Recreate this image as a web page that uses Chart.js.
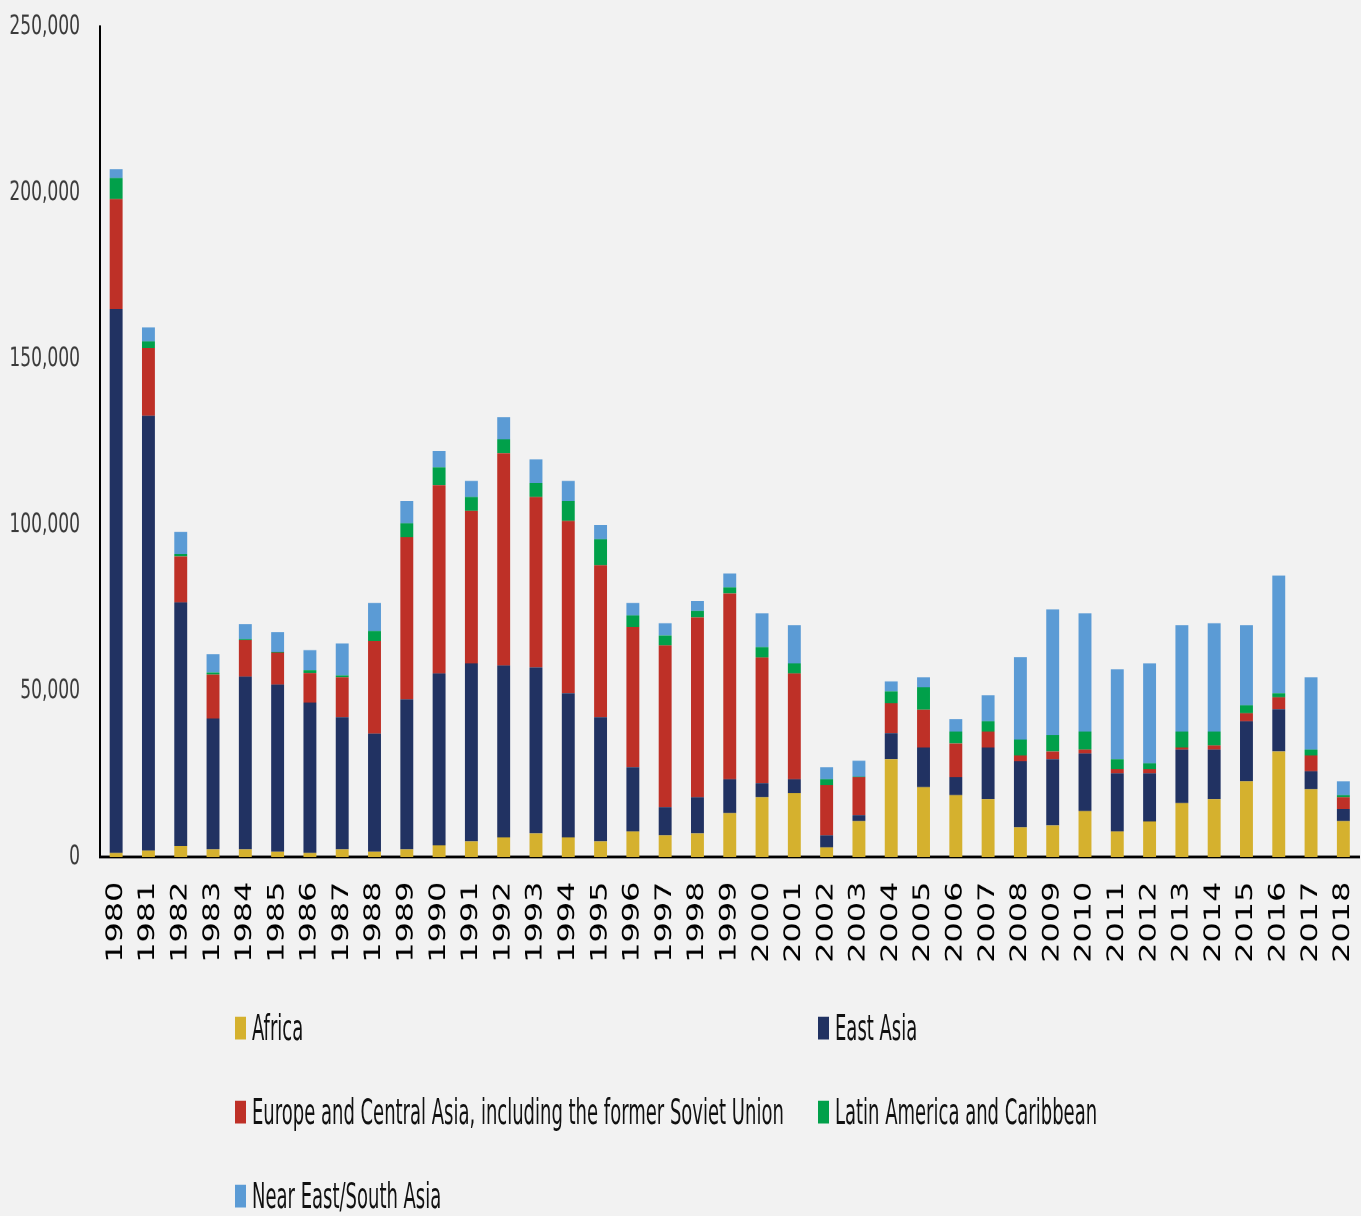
<!DOCTYPE html>
<html>
<head>
<meta charset="utf-8">
<script src="https://cdn.jsdelivr.net/npm/chart.js@4.4.1/dist/chart.umd.min.js"></script>
<style>
  html, body { margin: 0; padding: 0; background: #f2f2f2; }
  body { width: 1361px; height: 1216px; overflow: hidden; position: relative; }
  /* the source picture is stretched vertically, so draw flat and stretch */
  #stretch { position: absolute; left: 0; top: 0; width: 1361px; height: 676px;
             transform: scaleY(1.45); transform-origin: 0 0; }
  #box { position: absolute; left: 0; top: 0; width: 1361px; height: 676px; }
  #legend { position: absolute; left: 0; top: 0; width: 1361px; height: 695px;
            transform: scaleY(1.75); transform-origin: 0 0;
            font-family: "Liberation Sans Narrow", "DejaVu Sans Condensed", sans-serif;
            font-size: 20px; color: #111; }
  .item { position: absolute; display: flex; align-items: center; white-space: nowrap; height: 24px; }
  .swatch { width: 11px; height: 13.7px; margin-right: 6px; }
</style>
</head>
<body>
<div id="stretch">
  <div id="box"><canvas id="c"></canvas></div>
</div>
<div id="legend"></div>
<script>
  "use strict";

  const YEARS = ["1980","1981","1982","1983","1984","1985","1986","1987","1988","1989",
    "1990","1991","1992","1993","1994","1995","1996","1997","1998","1999",
    "2000","2001","2002","2003","2004","2005","2006","2007","2008","2009",
    "2010","2011","2012","2013","2014","2015","2016","2017","2018"];

  const AFRICA = [1200, 1900, 3300, 2300, 2300, 1600, 1200, 2300, 1600, 2300,
    3500, 4700, 5900, 7100, 5900, 4700, 7700, 6500, 7100, 13200,
    18000, 19200, 2900, 10800, 29400, 21000, 18600, 17400, 8900, 9500,
    13800, 7700, 10700, 16200, 17400, 22800, 31800, 20400, 10800];

  const EAST_ASIA = [163900, 131000, 73400, 39400, 52000, 50300, 45300, 39800, 35600, 45200,
    51800, 53600, 51800, 50000, 43400, 37400, 19300, 8500, 10900, 10200,
    4200, 4200, 3600, 1800, 7900, 12000, 5400, 15600, 19900, 19900,
    17400, 17500, 14500, 16200, 15000, 18100, 12700, 5400, 3600];

  const EUROPE = [33100, 20400, 13800, 13200, 11000, 9700, 8900, 12000, 27900, 48800,
    56700, 45900, 63900, 51300, 51900, 45800, 42200, 48700, 54200, 56000,
    37900, 31900, 15100, 11400, 9000, 11400, 10200, 4800, 1800, 2400,
    1200, 1200, 1200, 600, 1200, 2400, 3600, 4800, 3600];

  const LATIN_AMERICA = [6300, 2000, 800, 700, 300, 200, 900, 600, 3000, 4200,
    5400, 4200, 4200, 4300, 6000, 7800, 3600, 3000, 1900, 1800,
    3100, 3000, 1800, 200, 3600, 6700, 3600, 3100, 4800, 4900,
    5400, 3000, 1800, 4800, 4200, 2400, 1200, 1800, 600];

  const NEAR_EAST = [2700, 4200, 6600, 5500, 4500, 5900, 6000, 9600, 8400, 6700,
    4900, 4900, 6700, 7100, 6100, 4300, 3700, 3700, 3000, 4200,
    10200, 11500, 3600, 4800, 3000, 3000, 3700, 7800, 24800, 37900,
    35600, 27100, 30100, 32000, 32600, 24100, 35500, 21700, 4200];

  const SERIES_NAMES = ["Africa", "East Asia",
    "Europe and Central Asia, including the former Soviet Union",
    "Latin America and Caribbean", "Near East/South Asia"];
  const SERIES_VALUES = [AFRICA, EAST_ASIA, EUROPE, LATIN_AMERICA, NEAR_EAST];
  const SERIES_COLORS = ["#D5B12E", "#213262", "#BE3027", "#01A04A", "#5B9BD5"];

  const Y_MIN = 0;
  const Y_MAX = 250000;
  const Y_STEP = 50000;

  const NARROW = '"Liberation Sans Narrow", "DejaVu Sans Condensed", sans-serif';

  const datasets = SERIES_NAMES.map(function (name, i) {
    return {
      label: name,
      data: SERIES_VALUES[i],
      backgroundColor: SERIES_COLORS[i],
      borderWidth: 0,
    };
  });

  const chart = new Chart(document.getElementById("c"), {
    type: "bar",
    data: { labels: YEARS, datasets: datasets },
    options: {
      responsive: true,
      maintainAspectRatio: false,
      animation: false,
      devicePixelRatio: 2,
      layout: { padding: { top: 18.6, right: 1.5, left: 0, bottom: 0 } },
      datasets: { bar: { barPercentage: 0.4, categoryPercentage: 1 } },
      plugins: { legend: { display: false }, tooltip: { enabled: false } },
      scales: {
        x: {
          stacked: true,
          grid: { display: false, drawTicks: false },
          border: { display: true, color: "#000", width: 2 },
          ticks: {
            minRotation: 90, maxRotation: 90, autoSkip: false, padding: 17,
            color: "#000", font: { family: "DejaVu Sans", size: 22 },
          },
          afterFit: function (s) {
            s.height = 85;
            s.paddingLeft = 0;
            s.paddingRight = 0;
          },
        },
        y: {
          stacked: true,
          min: Y_MIN,
          max: Y_MAX,
          grid: { display: false, drawTicks: false },
          border: { display: true, color: "#000", width: 2 },
          ticks: {
            stepSize: Y_STEP, padding: 20, color: "#3a3a3a",
            font: { family: NARROW, size: 19 },
            callback: function (v) { return v.toLocaleString("en-US"); },
          },
          afterFit: function (s) {
            s.width = 100;
            s.paddingTop = 0;
            s.paddingBottom = 0;
          },
        },
      },
    },
  });

  // legend in two columns, built from the chart's datasets
  const LEGEND_STRETCH = 1.75;
  const LEGEND_COLS = [235, 818];
  const LEGEND_ROWS = [1028, 1112, 1196];
  const legend = document.getElementById("legend");
  chart.data.datasets.forEach(function (ds, i) {
    const item = document.createElement("div");
    item.className = "item";
    item.style.left = LEGEND_COLS[i % 2] + "px";
    item.style.top = (LEGEND_ROWS[Math.floor(i / 2)] / LEGEND_STRETCH - 12) + "px";
    const sw = document.createElement("span");
    sw.className = "swatch";
    sw.style.background = ds.backgroundColor;
    const tx = document.createElement("span");
    tx.textContent = ds.label;
    item.appendChild(sw);
    item.appendChild(tx);
    legend.appendChild(item);
  });
</script>
</body>
</html>
